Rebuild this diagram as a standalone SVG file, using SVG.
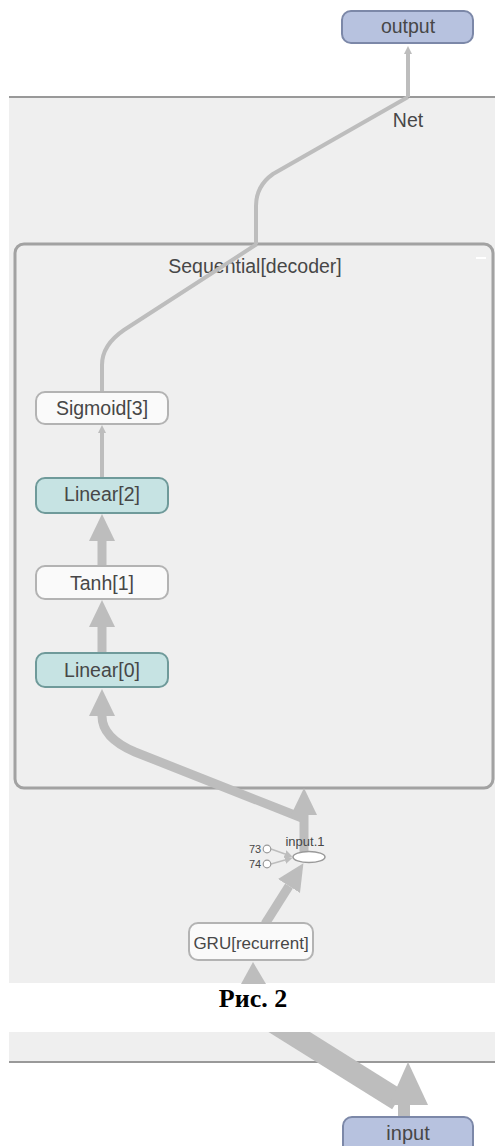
<svg xmlns="http://www.w3.org/2000/svg" width="495" height="1146" viewBox="0 0 495 1146">
<style>
.panel{fill:#efefef}
.pline{stroke:#999;stroke-width:2;fill:none}
.edge{stroke:#bdbdbd;fill:none;stroke-linecap:butt}
.thin{stroke-width:4}
.thick{stroke-width:9}
.node{fill:#fafafa;stroke:#b3b3b3;stroke-width:2}
.lin{fill:#c6e3e3;stroke:#6f9a9a;stroke-width:2}
.io{fill:#b7c2df;stroke:#7c88a8;stroke-width:2}
.t{font-family:"Liberation Sans",Arial,sans-serif;fill:#474747;text-anchor:middle}
.ah{fill:#bdbdbd}
</style>
<defs>
<marker id="aS" markerUnits="userSpaceOnUse" markerWidth="10" markerHeight="10" refX="0" refY="5" orient="auto"><path d="M0,1 L8,5 L0,9 z" fill="#bdbdbd"/></marker>
<marker id="aB" markerUnits="userSpaceOnUse" markerWidth="30" markerHeight="30" refX="0" refY="15" orient="auto"><path d="M0,2 L27,15 L0,28 z" fill="#bdbdbd"/></marker>
<clipPath id="cb"><rect x="9" y="1032" width="486" height="114"/></clipPath>
</defs>

<g id="panels">
<rect class="panel" x="9" y="97" width="486" height="886"/>
<line class="pline" x1="9" y1="97" x2="495" y2="97"/>
<rect class="panel" x="9" y="1032" width="486" height="30"/>
<line class="pline" x1="9" y1="1062" x2="495" y2="1062"/>
</g>

<g id="net-label"><text class="t" x="408" y="127" font-size="19.5">Net</text></g>

<g id="sequential-decoder">
<rect x="15" y="244" width="478" height="544" rx="9" fill="none" stroke="#a2a2a2" stroke-width="3"/>
<line x1="476" y1="258" x2="486" y2="258" stroke="#fff" stroke-width="2"/>
<text class="t" x="255" y="273" font-size="19.5">Sequential[decoder]</text>
</g>

<g id="connectors">
<path class="edge thin" d="M408,97 L408,54" marker-end="url(#aS)"/>
<path class="edge thin" d="M256,244 L256,206 Q256,186 273,174 L408,97"/>
<path class="edge thin" d="M257,244 L124,330 Q102,345 102,365 L102,392"/>
<path class="edge thin" d="M102,478 L102,433" marker-end="url(#aS)"/>
<path class="edge thick" d="M102,566 L102,541" marker-end="url(#aB)"/>
<path class="edge thick" d="M102,653 L102,627" marker-end="url(#aB)"/>
<path class="edge thick" d="M302,818 L135,752 Q102,738 102,716" marker-end="url(#aB)"/>
<path class="edge thick" d="M304,852 L304,815" marker-end="url(#aB)"/>
<path class="edge thick" d="M265,924 L289,886" marker-end="url(#aB)"/>
<path class="edge" stroke-width="1.5" d="M271,849 L285,854" marker-end="url(#aS)"/>
<path class="edge" stroke-width="1.5" d="M271,864 L285,860" marker-end="url(#aS)"/>
<polygon class="ah" points="253,962 241,984 266,984"/>
<g clip-path="url(#cb)">
<line class="edge" stroke-width="22" x1="270" y1="1020" x2="398" y2="1100"/>
</g>
<rect class="ah" x="398" y="1100" width="12" height="18"/>
<polygon class="ah" points="408,1062 389,1105 428,1105"/>
</g>

<g id="output">
<rect class="io" x="342" y="11" width="131" height="32" rx="9"/>
<text class="t" x="408" y="33" font-size="19.5">output</text>
</g>

<g id="sigmoid3">
<rect class="node" x="36" y="392" width="132" height="32" rx="9"/>
<text class="t" x="102" y="415" font-size="19.5">Sigmoid[3]</text>
</g>

<g id="linear2">
<rect class="lin" x="36" y="478" width="132" height="35" rx="9"/>
<text class="t" x="102" y="501" font-size="19.5">Linear[2]</text>
</g>

<g id="tanh1">
<rect class="node" x="36" y="566" width="132" height="33" rx="9"/>
<text class="t" x="102" y="590" font-size="19.5">Tanh[1]</text>
</g>

<g id="linear0">
<rect class="lin" x="36" y="653" width="132" height="34" rx="9"/>
<text class="t" x="102" y="677" font-size="19.5">Linear[0]</text>
</g>

<g id="input1">
<ellipse cx="309" cy="857" rx="16" ry="5.5" fill="#fff" stroke="#9a9a9a" stroke-width="1.5"/>
<text class="t" x="305" y="846" font-size="13">input.1</text>
</g>

<g id="c73">
<circle cx="267" cy="849" r="3.8" fill="#fff" stroke="#9a9a9a" stroke-width="1.2"/>
<text class="t" x="255" y="853" font-size="11">73</text>
</g>
<g id="c74">
<circle cx="267" cy="864" r="3.8" fill="#fff" stroke="#9a9a9a" stroke-width="1.2"/>
<text class="t" x="255" y="868" font-size="11">74</text>
</g>

<g id="gru">
<rect class="node" x="189" y="923" width="124" height="37" rx="9"/>
<text class="t" x="251" y="949" font-size="17">GRU[recurrent]</text>
</g>

<g id="caption">
<text x="253" y="1007" font-family="'Liberation Serif','Times New Roman',serif" font-weight="bold" font-size="26" text-anchor="middle" fill="#000">Рис. 2</text>
</g>

<g id="input">
<rect class="io" x="343" y="1117" width="130" height="40" rx="9"/>
<text class="t" x="408" y="1140" font-size="20">input</text>
</g>
</svg>
